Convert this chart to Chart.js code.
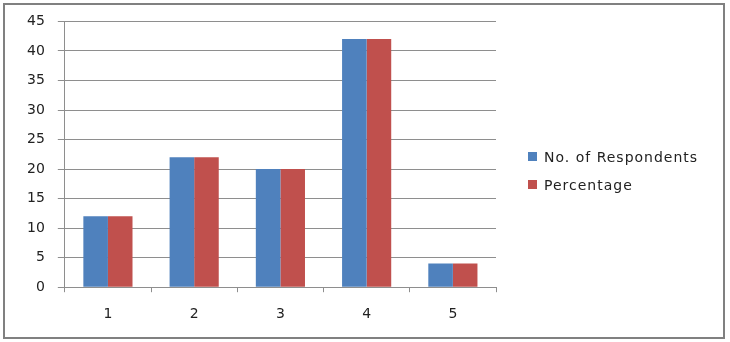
<!DOCTYPE html>
<html>
<head>
<meta charset="utf-8">
<script src="https://cdn.jsdelivr.net/npm/chart.js@4"></script>
<style>
  body { margin: 0; background: #fff; }
  #wrap { position: absolute; left: 0; top: 0; width: 730px; height: 342px; }
  #frame { position: absolute; left: 3px; top: 3px; width: 718px; height: 332px; border: 2px solid #808080; pointer-events: none; }
  #legend { position: absolute; left: 528px; top: 148px; font-family: "DejaVu Sans", sans-serif; font-size: 14px; letter-spacing: 1px; color: #222; }
  #legend div { height: 28px; line-height: 18px; }
  #legend span.box { display: inline-block; width: 9px; height: 9px; margin-right: 7px; vertical-align: 1px; }
</style>
</head>
<body>
<div id="wrap">
  <canvas id="chart" width="730" height="342"></canvas>
  <div id="frame"></div>
  <div id="legend"></div>
</div>
<script>
const categories = ['1', '2', '3', '4', '5'];
const respondents = [12, 22, 20, 42, 4];
const percentage = [12, 22, 20, 42, 4];
const seriesNames = ['No. of Respondents', 'Percentage'];
const seriesColors = ['#4F81BD', '#C0504D'];

const ctx = document.getElementById('chart').getContext('2d');
const chart = new Chart(ctx, {
    type: 'bar',
    data: {
        labels: categories,
        datasets: [
            { label: seriesNames[0], data: respondents, backgroundColor: seriesColors[0] },
            { label: seriesNames[1], data: percentage, backgroundColor: seriesColors[1] }
        ]
    },
    options: {
        responsive: false,
        animation: false,
        layout: { padding: { left: 14, right: 234, top: 15, bottom: 5 } },
        datasets: { bar: { categoryPercentage: 0.57, barPercentage: 1 } },
        scales: {
            x: {
                grid: { offset: true, drawOnChartArea: false, drawTicks: true, tickLength: 5, color: '#8e8e8e' },
                border: { color: '#8e8e8e' },
                ticks: { padding: 14, color: '#222', font: { family: 'DejaVu Sans', size: 14 } }
            },
            y: {
                min: 0,
                max: 45,
                grid: { color: '#8e8e8e', tickLength: 7 },
                border: { color: '#8e8e8e' },
                ticks: { stepSize: 5, padding: 13, color: '#222', font: { family: 'DejaVu Sans', size: 14 } }
            }
        },
        plugins: {
            legend: { display: false },
            tooltip: { enabled: false }
        }
    }
});

// legenda (HTML)
const legend = document.getElementById('legend');
chart.data.datasets.forEach(ds => {
    const row = document.createElement('div');
    const box = document.createElement('span');
    box.className = 'box';
    box.style.background = ds.backgroundColor;
    row.appendChild(box);
    row.appendChild(document.createTextNode(ds.label));
    legend.appendChild(row);
});
</script>
</body>
</html>
